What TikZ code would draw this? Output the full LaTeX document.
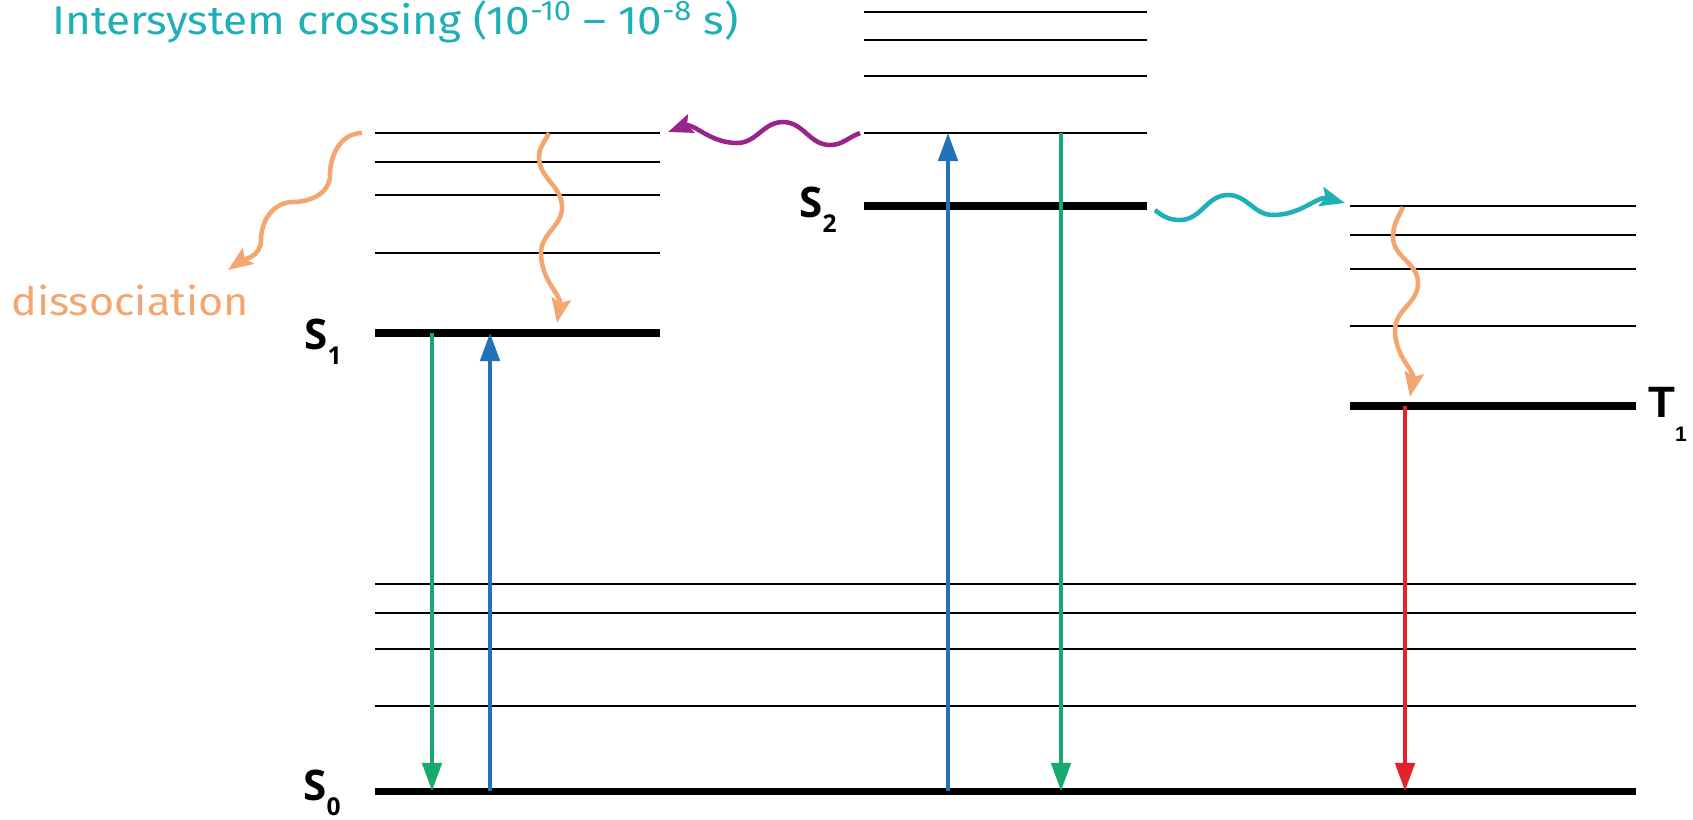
\documentclass[tikz,border=0pt]{standalone}
\usepackage{fontspec}
\setmainfont[FakeStretch=1.1]{Fira Sans}
\newfontfamily\lblfont{Open Sans}
\newfontfamily\tlblfont{Liberation Sans}
\newcommand{\idxfont}{\lblfont\bfseries\fontsize{14}{14}\selectfont}
\usetikzlibrary{arrows.meta}
\definecolor{iscteal}{RGB}{30,176,182}
\definecolor{vrorange}{RGB}{244,166,112}
\definecolor{icpurple}{RGB}{152,36,140}
\definecolor{absblue}{RGB}{33,114,185}
\definecolor{flgreen}{RGB}{22,170,110}
\definecolor{phred}{RGB}{226,35,43}
\begin{document}
\begin{tikzpicture}[x=0.02cm,y=0.02cm,
  lvl/.style={line width=4pt},
  sublvl/.style={line width=0.8pt},
  radiative/.style={line width=2.3pt,-{Triangle[length=16pt,width=11pt]}},
  wavy/.style={line width=2.6pt,-{Stealth[length=14pt,width=11pt,inset=2.5pt]}},
  lbl/.style={font=\lblfont\bfseries\fontsize{24}{24}\selectfont,inner sep=0pt,anchor=base west}]
\useasboundingbox (0,0) rectangle (1693,-819);
% vibrational levels
\foreach \y in {133,162,195,253} \draw[sublvl] (375,-\y) -- (660,-\y);
\foreach \y in {12,40,76,133} \draw[sublvl] (864,-\y) -- (1147,-\y);
\foreach \y in {206,235,269,326} \draw[sublvl] (1350,-\y) -- (1636,-\y);
\foreach \y in {584,613,649,706} \draw[sublvl] (375,-\y) -- (1636,-\y);
% electronic levels
\draw[lvl] (375,-333) -- (660,-333);
\draw[lvl] (864,-206) -- (1147,-206);
\draw[lvl] (1350,-406) -- (1636,-406);
\draw[lvl] (375,-791) -- (1636,-791);
\node[lbl] (s1lbl) at (304,-349) {S\raisebox{-9pt}{\idxfont 1}};
\node[lbl] (s0lbl) at (303,-800) {S\raisebox{-9pt}{\idxfont 0}};
\node[lbl] (s2lbl) at (799,-217) {S\raisebox{-9pt}{\idxfont 2}};
\node[lbl,font=\tlblfont\bfseries\fontsize{25}{25}\selectfont] (t1lbl) at (1648,-417)
  {T\raisebox{-14pt}{\tlblfont\bfseries\fontsize{12}{12}\selectfont 1}};
% end points
\coordinate (f1top) at (432,-333);  \coordinate (f1bot) at (432,-791);
\coordinate (a1bot) at (490,-791);  \coordinate (a1top) at (490,-333);
\coordinate (a2bot) at (948,-791);  \coordinate (a2top) at (948,-133);
\coordinate (f2top) at (1061,-133); \coordinate (f2bot) at (1061,-791);
\coordinate (phtop) at (1405,-406); \coordinate (phbot) at (1405,-791);
\coordinate (icA) at (860,-133);   \coordinate (icB) at (668,-132);
\coordinate (iscA) at (1155,-210); \coordinate (iscB) at (1345,-203);
\coordinate (vrA) at (549,-133);   \coordinate (vrB) at (557,-323);
\coordinate (vrtA) at (1403,-207); \coordinate (vrtB) at (1410,-397);
\coordinate (dsA) at (362,-133);   \coordinate (dsB) at (228,-270);
% transitions
\draw[radiative,flgreen] (f1top) -- (f1bot);
\draw[radiative,absblue] (a1bot) -- (a1top);
\draw[radiative,absblue] (a2bot) -- (a2top);
\draw[radiative,flgreen] (f2top) -- (f2bot);
\draw[radiative,phred] (phtop) -- (phbot);
% internal conversion S2 -> S1
\draw[wavy,icpurple] (icA) to[out=200,in=0] (830,-145) to[out=180,in=0] (783,-122)
  to[out=180,in=0] (737,-143) to[out=180,in=20] (icB);
% intersystem crossing S2 -> T1
\draw[wavy,iscteal] (iscA) to[out=-40,in=180] (1180,-220) to[out=0,in=180] (1228,-195)
  to[out=0,in=180] (1273,-215) to[out=0,in=165] (iscB);
% vibrational relaxation
\draw[wavy,vrorange] (vrA) to[out=-115,in=90] (539,-157) to[out=-90,in=90] (562,-207)
  to[out=-90,in=90] (541,-253) to[out=-90,in=80] (vrB);
\draw[wavy,vrorange] (vrtA) to[out=-115,in=90] (1393,-237) to[out=-90,in=90] (1418,-283)
  to[out=-90,in=90] (1395,-330) to[out=-90,in=80] (vrtB);
\draw[wavy,vrorange] (dsA) to[out=180,in=90] (330,-175) to[out=-90,in=0] (293,-202)
  to[out=180,in=90] (261,-240) to[out=-90,in=35] (dsB);
% texts
\node[anchor=base west,inner sep=0pt,text=iscteal,font=\fontsize{22.8}{23}\selectfont] (isctext) at (52,-34)
  {Intersystem crossing (10\textsuperscript{-10} – 10\textsuperscript{-8} s)};
\node[anchor=base west,inner sep=0pt,text=vrorange,font=\fontsize{22.3}{23}\selectfont] (dstext) at (11,-315) {dissociation};
\end{tikzpicture}
\end{document}
